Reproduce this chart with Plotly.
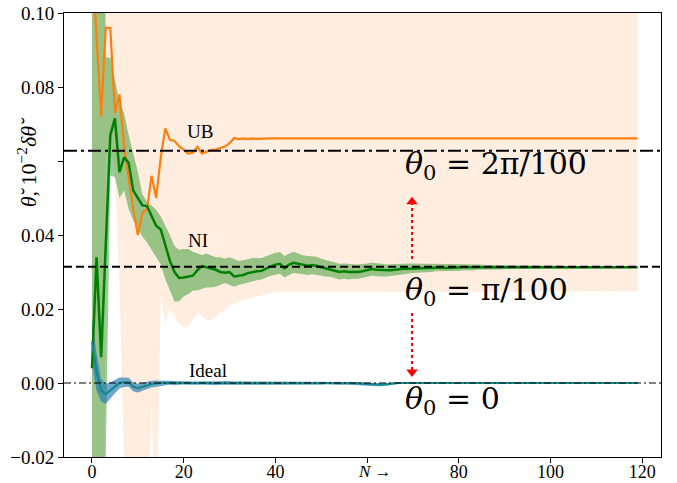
import plotly.graph_objects as go

# ---------------- data ----------------
N = list(range(120))

ub_mean = [
    0.115, 0.093, 0.072, 0.096, 0.096, 0.073, 0.078, 0.064, 0.055, 0.047,
    0.040, 0.046, 0.047, 0.056, 0.050, 0.061, 0.0688, 0.0657, 0.0654, 0.0640,
    0.0630, 0.0620, 0.0622, 0.0639, 0.0620, 0.0626, 0.0630, 0.0631, 0.0634, 0.0639,
    0.0648, 0.0662, 0.0659, 0.0661, 0.0659, 0.0661, 0.0660, 0.0661, 0.0661, 0.0661,
    0.0661, 0.0661, 0.0661, 0.0661, 0.0661, 0.0661, 0.0661, 0.0661, 0.0661, 0.0661,
    0.0661, 0.0661, 0.0661, 0.0661, 0.0661, 0.0661, 0.0661, 0.0661, 0.0661, 0.0661,
    0.0661, 0.0661, 0.0661, 0.0661, 0.0661, 0.0661, 0.0661, 0.0661, 0.0661, 0.0661,
    0.0661, 0.0661, 0.0661, 0.0661, 0.0661, 0.0661, 0.0661, 0.0661, 0.0661, 0.0661,
    0.0661, 0.0661, 0.0661, 0.0661, 0.0661, 0.0661, 0.0661, 0.0661, 0.0661, 0.0661,
    0.0661, 0.0661, 0.0661, 0.0661, 0.0661, 0.0661, 0.0661, 0.0661, 0.0661, 0.0661,
    0.0661, 0.0661, 0.0661, 0.0661, 0.0661, 0.0661, 0.0661, 0.0661, 0.0661, 0.0661,
    0.0661, 0.0661, 0.0661, 0.0661, 0.0661, 0.0661, 0.0661, 0.0661, 0.0661, 0.0661,
]
ub_upper = [0.30] * 120
ub_lower = [
    -0.30, -0.30, -0.30, 0.062, 0.062, 0.058, 0.025, -0.022, -0.06, -0.06,
    -0.06, -0.06, -0.05, -0.005, -0.05, 0.024, 0.016, 0.020, 0.018, 0.016,
    0.0150, 0.0155, 0.017, 0.019, 0.018, 0.017, 0.017, 0.018, 0.019, 0.0195,
    0.0210, 0.0215, 0.0220, 0.0225, 0.0230, 0.0232, 0.0235, 0.0238, 0.0240, 0.0243,
    0.0245, 0.0247, 0.0247, 0.0247, 0.0247, 0.0247, 0.0247, 0.0247, 0.0247, 0.0247,
    0.0247, 0.0247, 0.0247, 0.0247, 0.0247, 0.0247, 0.0247, 0.0247, 0.0247, 0.0247,
    0.0247, 0.0247, 0.0247, 0.0247, 0.0247, 0.0247, 0.0247, 0.0247, 0.0247, 0.0247,
    0.0247, 0.0247, 0.0247, 0.0247, 0.0247, 0.0247, 0.0247, 0.0247, 0.0247, 0.0247,
    0.0247, 0.0247, 0.0247, 0.0247, 0.0247, 0.0247, 0.0247, 0.0247, 0.0247, 0.0247,
    0.0247, 0.0247, 0.0247, 0.0247, 0.0247, 0.0247, 0.0247, 0.0247, 0.0247, 0.0247,
    0.0247, 0.0247, 0.0247, 0.0247, 0.0247, 0.0247, 0.0247, 0.0247, 0.0247, 0.0247,
    0.0247, 0.0247, 0.0247, 0.0247, 0.0247, 0.0247, 0.0247, 0.0247, 0.0247, 0.0247,
]

ni_mean = [
    0.004, 0.034, 0.007, 0.037, 0.067, 0.0715, 0.057, 0.061, 0.0595, 0.052,
    0.050, 0.048, 0.0478, 0.045, 0.0425, 0.0415, 0.037, 0.033, 0.030, 0.0284,
    0.0285, 0.0288, 0.0290, 0.0305, 0.0316, 0.0313, 0.0310, 0.0306, 0.0300, 0.0298,
    0.0300, 0.0288, 0.0290, 0.0292, 0.0297, 0.0300, 0.0302, 0.0303, 0.0310, 0.0315,
    0.0320, 0.0322, 0.0310, 0.0320, 0.0325, 0.0322, 0.0318, 0.0317, 0.0318, 0.0317,
    0.0313, 0.0310, 0.0308, 0.0304, 0.0300, 0.0302, 0.0300, 0.0301, 0.0300, 0.0302,
    0.0305, 0.0308, 0.0306, 0.0305, 0.0304, 0.0305, 0.0306, 0.0308, 0.0309, 0.0309,
    0.0310, 0.0310, 0.0311, 0.0311, 0.0311, 0.0312, 0.0312, 0.0311, 0.0312, 0.0312,
    0.0312, 0.0313, 0.0313, 0.0312, 0.0313, 0.0313, 0.0313, 0.0313, 0.0313, 0.0313,
    0.0313, 0.0313, 0.0313, 0.0313, 0.0313, 0.0313, 0.0313, 0.0313, 0.0313, 0.0313,
    0.0313, 0.0313, 0.0313, 0.0313, 0.0313, 0.0313, 0.0313, 0.0313, 0.0313, 0.0313,
    0.0313, 0.0313, 0.0313, 0.0313, 0.0313, 0.0313, 0.0313, 0.0313, 0.0313, 0.0313,
]
ni_upper = [
    0.30, 0.30, 0.30, 0.088, 0.088, 0.082, 0.076, 0.073, 0.067, 0.062,
    0.057, 0.051, 0.049, 0.048, 0.0468, 0.045, 0.0425, 0.040, 0.037, 0.036,
    0.0362, 0.0362, 0.0355, 0.0350, 0.0346, 0.0350, 0.0345, 0.0340, 0.0340, 0.0336,
    0.0340, 0.0335, 0.0330, 0.0332, 0.0335, 0.0338, 0.0338, 0.0338, 0.0343, 0.0348,
    0.0352, 0.0354, 0.0343, 0.0350, 0.0355, 0.0350, 0.0345, 0.0343, 0.0343, 0.0341,
    0.0336, 0.0333, 0.0330, 0.0326, 0.0322, 0.0323, 0.0321, 0.0321, 0.0320, 0.0321,
    0.0323, 0.0326, 0.0324, 0.0322, 0.0321, 0.0321, 0.0322, 0.0323, 0.0323, 0.0323,
    0.0323, 0.0322, 0.0323, 0.0322, 0.0322, 0.0322, 0.0322, 0.0321, 0.0321, 0.0321,
    0.0321, 0.0321, 0.0321, 0.0320, 0.0320, 0.0320, 0.0319, 0.0319, 0.0319, 0.0319,
    0.0318, 0.0318, 0.0318, 0.0318, 0.0317, 0.0317, 0.0317, 0.0317, 0.0317, 0.0317,
    0.0317, 0.0317, 0.0317, 0.0316, 0.0316, 0.0316, 0.0316, 0.0316, 0.0316, 0.0316,
    0.0316, 0.0316, 0.0316, 0.0316, 0.0316, 0.0316, 0.0316, 0.0316, 0.0316, 0.0316,
]
ni_lower = [
    -0.30, -0.30, -0.30, -0.020, 0.056, 0.0557, 0.050, 0.052, 0.047, 0.044,
    0.042, 0.0395, 0.038, 0.036, 0.034, 0.032, 0.028, 0.025, 0.022, 0.022,
    0.0234, 0.0240, 0.0250, 0.0250, 0.0255, 0.0258, 0.0258, 0.0260, 0.0265, 0.0270,
    0.0265, 0.0260, 0.0265, 0.0268, 0.0272, 0.0275, 0.0278, 0.0280, 0.0285, 0.0290,
    0.0293, 0.0295, 0.0285, 0.0292, 0.0297, 0.0296, 0.0293, 0.0292, 0.0294, 0.0294,
    0.0290, 0.0288, 0.0287, 0.0283, 0.0280, 0.0282, 0.0280, 0.0282, 0.0281, 0.0283,
    0.0287, 0.0290, 0.0288, 0.0288, 0.0287, 0.0289, 0.0290, 0.0293, 0.0295, 0.0295,
    0.0297, 0.0298, 0.0299, 0.0300, 0.0300, 0.0302, 0.0302, 0.0301, 0.0303, 0.0303,
    0.0303, 0.0305, 0.0305, 0.0304, 0.0306, 0.0306, 0.0307, 0.0307, 0.0307, 0.0307,
    0.0308, 0.0308, 0.0308, 0.0308, 0.0309, 0.0309, 0.0309, 0.0309, 0.0309, 0.0309,
    0.0309, 0.0309, 0.0309, 0.0310, 0.0310, 0.0310, 0.0310, 0.0310, 0.0310, 0.0310,
    0.0310, 0.0310, 0.0310, 0.0310, 0.0310, 0.0310, 0.0310, 0.0310, 0.0310, 0.0310,
]

ideal_mean = [
    0.0112, 0.0030, -0.0020, -0.0030, -0.0020, -0.0010, 0.0000, 0.0002, 0.0002, -0.0010,
    -0.0014, -0.0010, -0.0006, -0.0003, -0.0001, 0.0000, 0.0000, 0.0001, 0.0000, 0.0000,
    0.0001, 0.0000, -0.0001, 0.0000, 0.0001, 0.0000, 0.0000, -0.0001, 0.0000, 0.0001,
    0.0000, 0.0000, 0.0001, 0.0000, -0.0001, 0.0000, 0.0000, 0.0001, 0.0000, 0.0000,
    0.0000, -0.0001, 0.0000, 0.0000, 0.0001, 0.0000, 0.0000, -0.0001, 0.0000, 0.0000,
    0.0000, 0.0001, 0.0000, 0.0000, -0.0001, 0.0000, 0.0000, 0.0000, -0.0001, -0.0002,
    -0.0003, -0.0004, -0.0005, -0.0005, -0.0004, -0.0002, 0.0000, 0.0000, 0.0000, 0.0000,
    0.0000, 0.0001, 0.0000, 0.0000, 0.0000, -0.0001, 0.0000, 0.0000, 0.0000, 0.0000,
    0.0000, 0.0000, 0.0000, 0.0000, 0.0000, 0.0000, 0.0000, 0.0000, 0.0000, 0.0000,
    0.0000, 0.0000, 0.0000, 0.0000, 0.0000, 0.0000, 0.0000, 0.0000, 0.0000, 0.0000,
    0.0000, 0.0000, 0.0000, 0.0000, 0.0000, 0.0000, 0.0000, 0.0000, 0.0000, 0.0000,
    0.0000, 0.0000, 0.0000, 0.0000, 0.0000, 0.0000, 0.0000, 0.0000, 0.0000, 0.0000,
]
ideal_halfwidth = [
    0.0060, 0.0050, 0.0030, 0.0027, 0.0022, 0.0018, 0.0015, 0.0013, 0.0012, 0.0012,
    0.0012, 0.0011, 0.0010, 0.0009, 0.0008, 0.0007, 0.0007, 0.0006, 0.0006, 0.0006,
    0.0005, 0.0005, 0.0005, 0.0005, 0.0005, 0.0005, 0.0005, 0.0005, 0.0005, 0.0005,
    0.0004, 0.0004, 0.0004, 0.0004, 0.0004, 0.0004, 0.0004, 0.0004, 0.0004, 0.0004,
    0.0004, 0.0004, 0.0004, 0.0004, 0.0004, 0.0004, 0.0004, 0.0004, 0.0004, 0.0004,
    0.0004, 0.0004, 0.0004, 0.0004, 0.0004, 0.0004, 0.0004, 0.0004, 0.0004, 0.0004,
    0.0004, 0.0004, 0.0004, 0.0004, 0.0004, 0.0004, 0.0003, 0.0003, 0.0003, 0.0003,
    0.0003, 0.0003, 0.0003, 0.0003, 0.0003, 0.0003, 0.0003, 0.0003, 0.0003, 0.0003,
    0.0003, 0.0003, 0.0003, 0.0003, 0.0003, 0.0003, 0.0003, 0.0003, 0.0003, 0.0003,
    0.0003, 0.0003, 0.0003, 0.0003, 0.0003, 0.0003, 0.0003, 0.0003, 0.0003, 0.0003,
    0.0003, 0.0003, 0.0003, 0.0003, 0.0003, 0.0003, 0.0003, 0.0003, 0.0003, 0.0003,
    0.0003, 0.0003, 0.0003, 0.0003, 0.0003, 0.0003, 0.0003, 0.0003, 0.0003, 0.0003,
]

theta_levels = [0.0628, 0.0314, 0.0]          # 2pi/100, pi/100, 0
x_ticks = [0, 20, 40, 60, 80, 100, 120]
x_ticktext = ["0", "20", "40", "", "80", "100", "120"]
y_ticks = [-0.02, 0.0, 0.02, 0.04, 0.06, 0.08, 0.10]
y_ticktext = ["−0.02", "0.00", "0.02", "0.04", "", "0.08", "0.10"]

# ---------------- figure ----------------
SERIF = "serif"
MATH = "DejaVu Serif"
fig = go.Figure()


def band(x, lo, hi, color):
    fig.add_trace(go.Scatter(
        x=list(x) + list(x)[::-1], y=list(hi) + list(lo)[::-1],
        fill="toself", fillcolor=color, line=dict(width=0),
        mode="lines", hoverinfo="skip", showlegend=False))


band(N, ub_lower, ub_upper, "rgba(255,127,14,0.13)")
band(N, ni_lower, ni_upper, "rgba(0,128,0,0.40)")
ideal_lo = [m - h for m, h in zip(ideal_mean, ideal_halfwidth)]
ideal_hi = [m + h for m, h in zip(ideal_mean, ideal_halfwidth)]
band(N, ideal_lo, ideal_hi, "rgba(31,119,180,0.65)")

fig.add_trace(go.Scatter(x=N, y=ub_mean, mode="lines",
                         line=dict(color="#ff7f0e", width=2.2), showlegend=False))
fig.add_trace(go.Scatter(x=N, y=ni_mean, mode="lines",
                         line=dict(color="#008000", width=2.5), showlegend=False))
fig.add_trace(go.Scatter(x=N, y=ideal_mean, mode="lines",
                         line=dict(color="#0f8a8c", width=2), showlegend=False))

# reference levels
styles = [dict(color="black", width=2, dash="13px,4px,3px,4px"),
          dict(color="black", width=2, dash="8px,4px"),
          dict(color="black", width=1.2, dash="7px,3px,2px,3px")]
for lvl, st in zip(theta_levels, styles):
    fig.add_shape(type="line", xref="paper", x0=0, x1=1, yref="y", y0=lvl, y1=lvl,
                  line=st, layer="above")

# red dotted arrows
ARROW_X = 69.8
arrows = [(0.0335, 0.0490, "triangle-up"), (0.0189, 0.0030, "triangle-down")]
for y0, y1, sym in arrows:
    fig.add_trace(go.Scatter(x=[ARROW_X, ARROW_X], y=[y0, y1], mode="lines",
                             line=dict(color="red", width=2, dash="dot"),
                             showlegend=False, hoverinfo="skip"))
    fig.add_trace(go.Scatter(x=[ARROW_X], y=[y1], mode="markers",
                             marker=dict(symbol=sym, size=10, color="red"),
                             showlegend=False, hoverinfo="skip"))

# labels
small = [("UB", 23.6, 0.0681), ("NI", 23.1, 0.0386), ("Ideal", 25.3, 0.0035)]
for txt, x, y in small:
    fig.add_annotation(x=x, y=y, text=txt, showarrow=False,
                       font=dict(family=SERIF, size=19, color="black"))

big = [("<i>θ</i><sub>0</sub> = 2π/100", 0.0589),
       ("<i>θ</i><sub>0</sub> = π/100", 0.0246),
       ("<i>θ</i><sub>0</sub> = 0", -0.0046)]
for txt, y in big:
    fig.add_annotation(x=67.9, y=y, text=txt, showarrow=False, xanchor="left",
                       font=dict(family=MATH, size=30, color="black"))

fig.add_annotation(xref="paper", yref="y", x=-0.035, y=0.0597,
                   text="<i>θ̆</i>, 10<sup>−2</sup><i>δθ̆</i>", textangle=-90,
                   showarrow=False, xanchor="right",
                   font=dict(family=SERIF, size=22, color="black"))
fig.add_annotation(xref="x", yref="paper", x=61.7, y=0, yshift=-14,
                   text="<i>N</i> →", showarrow=False, yanchor="middle",
                   font=dict(family=SERIF, size=17, color="black"))

axis_common = dict(ticks="outside", ticklen=5, tickcolor="black",
                   showline=True, mirror=True, linecolor="black", linewidth=1,
                   showgrid=False, zeroline=False, automargin=False)
fig.update_layout(
    width=677, height=483, autosize=False,
    margin=dict(l=64, r=16, t=13, b=26, autoexpand=False),
    paper_bgcolor="white", plot_bgcolor="white",
    showlegend=False,
    font=dict(family=SERIF),
    xaxis=dict(range=[-6.1, 124.1], tickvals=x_ticks, ticktext=x_ticktext,
               ticklabelstandoff=-7,
               tickfont=dict(family=SERIF, size=18, color="black"), **axis_common),
    yaxis=dict(range=[-0.02, 0.10], tickvals=y_ticks, ticktext=y_ticktext,
               tickfont=dict(family=SERIF, size=19, color="black"), **axis_common),
)

fig.write_html("out.html", config={"displayModeBar": False},
               post_script="document.body.style.margin='0px';")
